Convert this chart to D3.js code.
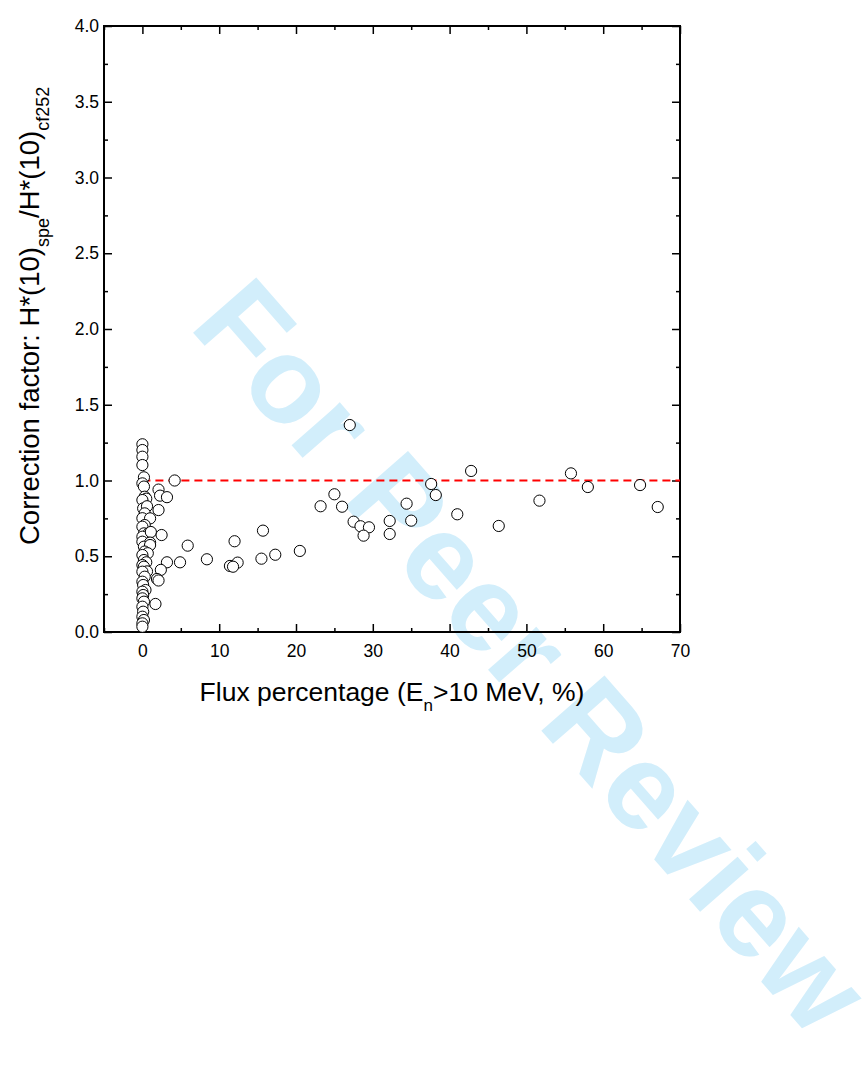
<!DOCTYPE html>
<html>
<head>
<meta charset="utf-8">
<script src="https://cdn.jsdelivr.net/npm/d3@7"></script>
<style>
  body { margin: 0; background: #fff; }
  svg { display: block; }
  text { font-family: "Liberation Sans", Arial, sans-serif; }
</style>
</head>
<body>
<svg id="chart" width="865" height="1088"></svg>
<script>
// ---- data ----
const fluxPct = [
  0, 0, 0, 0, 0.2, 0, 0.2, 0.3, 0.5, 0, 0.1, 0.6, 0.3, 0, 1.0, 0.3, 0, 0.2, 0.8, 0, 1.1, 0, 1.0, 0.2, 1.0,
  0.3, 0.7, 0, 0.2, 0.5, 0, 0.2, 0.6, 0, 0.3, 0, 0.1, 0.4, 0, 0.1, 0, 0.2, 0, 0.1, 0, 0.2, 0, 0,
  4.2, 2.1, 2.3, 3.2, 2.1, 2.5, 5.9, 3.2, 4.9, 8.4, 2.4, 1.9, 2.1, 1.7,
  27.0, 42.8, 37.6, 38.2, 25.0, 23.2, 26.0, 34.4, 41.0, 27.5, 28.4, 29.5, 28.8, 32.2, 32.2, 35.0,
  15.7, 12.0, 20.5, 17.3, 15.5, 12.4, 11.4, 11.8,
  46.4, 51.7, 55.8, 58.0, 64.8, 67.1
];
const corrFactor = [
  1.239, 1.201, 1.157, 1.102, 1.021, 0.981, 0.96, 0.893, 0.88, 0.871, 0.816, 0.83, 0.783, 0.751, 0.75, 0.706, 0.695, 0.651, 0.651, 0.629, 0.66, 0.596, 0.59, 0.563, 0.574,
  0.531, 0.52, 0.508, 0.475, 0.46, 0.442, 0.431, 0.40, 0.398, 0.365, 0.332, 0.31, 0.277, 0.266, 0.244, 0.222, 0.2, 0.167, 0.134, 0.101, 0.079, 0.057, 0.035,
  1.0, 0.94, 0.90, 0.89, 0.805, 0.64, 0.57, 0.46, 0.46, 0.48, 0.41, 0.35, 0.34, 0.185,
  1.366, 1.063, 0.977, 0.904, 0.909, 0.83, 0.827, 0.847, 0.777, 0.728, 0.698, 0.691, 0.636, 0.733, 0.647, 0.735,
  0.669, 0.599, 0.535, 0.51, 0.484, 0.458, 0.436, 0.431,
  0.70, 0.867, 1.047, 0.957, 0.97, 0.825
];
const xDomain = [-5, 70];
const yDomain = [0, 4];
const xMajorTicks = [0, 10, 20, 30, 40, 50, 60, 70];
const xMinorTicks = [-5, 5, 15, 25, 35, 45, 55, 65];
const yMajorTicks = [0, 0.5, 1.0, 1.5, 2.0, 2.5, 3.0, 3.5, 4.0];
const yMinorTicks = [0.25, 0.75, 1.25, 1.75, 2.25, 2.75, 3.25, 3.75];
const refLine = { x0: 0, x1: 70, y: 1.0 };
const watermark = "For Peer Review";

// ---- layout ----
const svg = d3.select("#chart");
const L = 104, R = 680, T = 26, B = 632;
const x = d3.scaleLinear().domain(xDomain).range([L, R]);
const y = d3.scaleLinear().domain(yDomain).range([B, T]);

// watermark (behind)
svg.append("text")
  .attr("transform", "translate(532,656) rotate(48.8)")
  .attr("text-anchor", "middle")
  .attr("dominant-baseline", "central")
  .attr("font-size", 122)
  .attr("font-weight", "bold")
  .attr("fill", "#d2eefb")
  .text(watermark);

const tickFont = 17.5;
const lw = 1.5;

function axis(gen, ticks, size, transform, fmt, showLabels) {
  const g = svg.append("g").attr("transform", transform)
    .call(gen.tickValues(ticks).tickSize(size).tickSizeOuter(0)
      .tickFormat(showLabels ? fmt : () => ""));
  g.select(".domain").remove();
  g.selectAll(".tick line").attr("stroke", "#000").attr("stroke-width", lw);
  g.selectAll(".tick text").attr("font-size", tickFont).attr("fill", "#000")
    .attr("font-family", "Liberation Sans, Arial, sans-serif");
  return g;
}
const fx = d3.format("d"), fy = d3.format(".1f");

// bottom (inward ticks)
axis(d3.axisBottom(x), xMajorTicks, -8, `translate(0,${B})`, fx, true)
  .selectAll(".tick text").attr("y", 13).attr("dy", "0.71em");
axis(d3.axisBottom(x), xMinorTicks, -4, `translate(0,${B})`, fx, false);
// top
axis(d3.axisTop(x), xMajorTicks, -8, `translate(0,${T})`, fx, false);
axis(d3.axisTop(x), xMinorTicks, -4, `translate(0,${T})`, fx, false);
// left
axis(d3.axisLeft(y), yMajorTicks, -8, `translate(${L},0)`, fy, true)
  .selectAll(".tick text").attr("x", -5).attr("text-anchor", "end");
axis(d3.axisLeft(y), yMinorTicks, -4, `translate(${L},0)`, fy, false);
// right
axis(d3.axisRight(y), yMajorTicks, -8, `translate(${R},0)`, fy, false);
axis(d3.axisRight(y), yMinorTicks, -4, `translate(${R},0)`, fy, false);

// frame
svg.append("rect").attr("x", L).attr("y", T).attr("width", R - L).attr("height", B - T)
  .attr("fill", "none").attr("stroke", "#000").attr("stroke-width", 2);

// reference line
svg.append("line")
  .attr("x1", x(refLine.x0)).attr("x2", x(refLine.x1))
  .attr("y1", y(refLine.y)).attr("y2", y(refLine.y))
  .attr("stroke", "#ff0000").attr("stroke-width", 2.2)
  .attr("stroke-dasharray", "8,5");

// points
const pts = fluxPct.map((v, i) => ({ fx: v, cf: corrFactor[i] }));
svg.append("g").selectAll("circle").data(pts).join("circle")
  .attr("cx", d => x(d.fx)).attr("cy", d => y(d.cf)).attr("r", 5.6)
  .attr("fill", "#fff").attr("stroke", "#000").attr("stroke-width", 1);

// x title
const xt = svg.append("text")
  .attr("x", (L + R) / 2).attr("y", 701)
  .attr("text-anchor", "middle").attr("font-size", 26.5).attr("fill", "#000");
xt.append("tspan").text("Flux percentage (E");
xt.append("tspan").attr("font-size", 17).attr("dy", 10).text("n");
xt.append("tspan").attr("dy", -10).text(">10 MeV, %)");

// y title
const yt = svg.append("text")
  .attr("transform", `translate(39,545) rotate(-90)`)
  .attr("text-anchor", "start").attr("font-size", 27.5).attr("fill", "#000");
yt.append("tspan").text("Correction factor: H*(10)");
yt.append("tspan").attr("font-size", 18).attr("dy", 10).text("spe");
yt.append("tspan").attr("dy", -10).text("/H*(10)");
yt.append("tspan").attr("font-size", 18).attr("dy", 10).text("cf252");
</script>
</body>
</html>
